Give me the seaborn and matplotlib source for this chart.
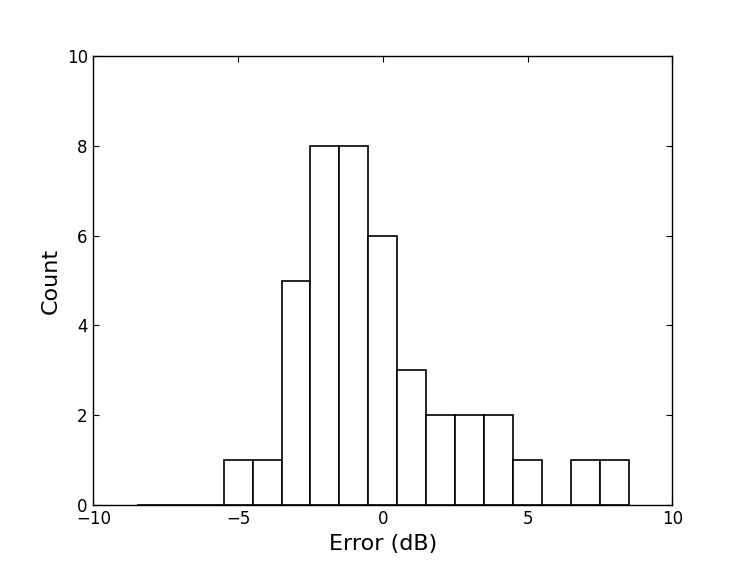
import numpy as np
import matplotlib
matplotlib.use("Agg")
import matplotlib.pyplot as plt
import seaborn as sns
import pandas as pd

# Histogram data (bin centers in dB and counts)
bin_centers = [-8, -7, -6, -5, -4, -3, -2, -1, 0, 1, 2, 3, 4, 5, 6, 7, 8]
counts = [0, 0, 0, 1, 1, 5, 8, 8, 6, 3, 2, 2, 2, 1, 0, 1, 1]
x_ticks = [-10, -5, 0, 5, 10]
y_ticks = [0, 2, 4, 6, 8, 10]

sns.set_style("white")
plt.rcParams['font.family'] = ['DejaVu Sans']

df = pd.DataFrame({"err": bin_centers, "n": counts})

fig = plt.figure(figsize=(7.47, 5.61), dpi=100)
ax = fig.add_axes([0.125, 0.1, 0.775, 0.8])
sns.histplot(data=df, x="err", weights="n", binwidth=1, binrange=(-8.5, 8.5), ax=ax,
             color="white", edgecolor="black", linewidth=1.2, alpha=1.0)

ax.set_xlim(-10, 10)
ax.set_ylim(0, 10)
ax.set_xticks(x_ticks)
ax.set_yticks(y_ticks)
ax.set_xticklabels(["\u221210", "\u22125", "0", "5", "10"])
ax.tick_params(direction="in", length=4, width=0.8, top=True, right=True,
               bottom=True, left=True, labelsize=12, colors="black", pad=4)
for s in ax.spines.values():
    s.set_visible(True)
    s.set_color("black")
    s.set_linewidth(1.0)
ax.set_xlabel("Error (dB)", fontsize=16, color="black")
ax.set_ylabel("Count", fontsize=16, color="black")
fig.savefig("out.png", dpi=100, facecolor="white")
